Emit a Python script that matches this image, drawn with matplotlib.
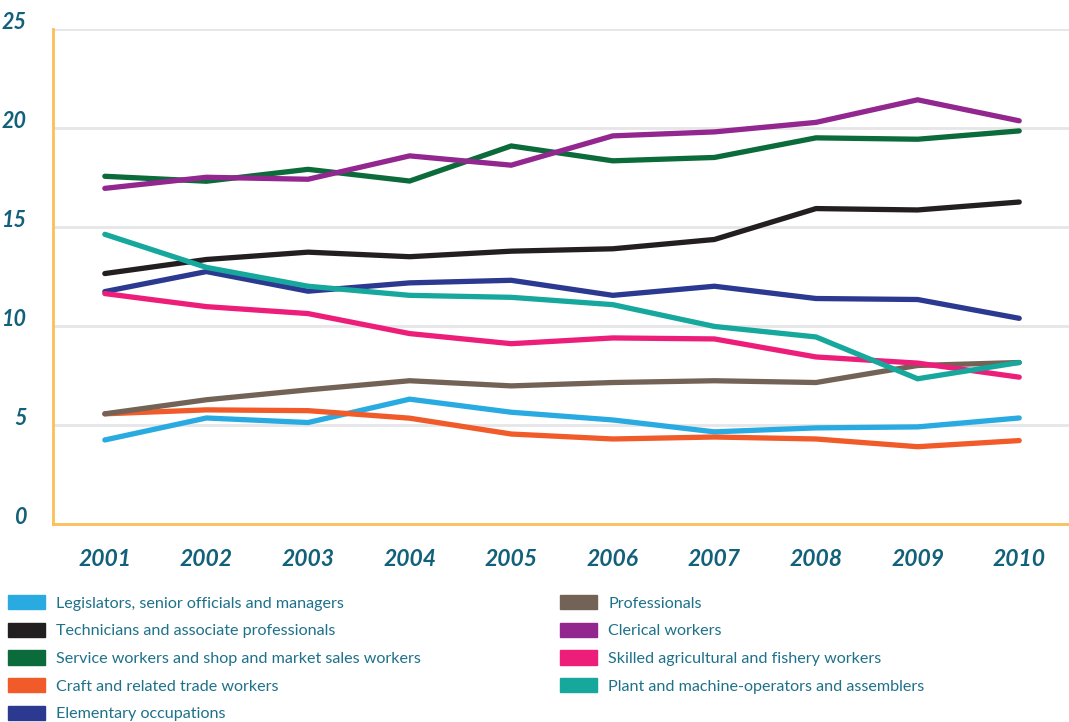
import numpy as np
import matplotlib.pyplot as plt
from matplotlib.patches import Patch

years = np.arange(2001, 2011)

legislators = [4.25, 5.36, 5.13, 6.31, 5.65, 5.26, 4.66, 4.86, 4.91, 5.36]
technicians = [12.65, 13.36, 13.73, 13.50, 13.78, 13.90, 14.37, 15.93, 15.86, 16.26]
service = [17.56, 17.31, 17.91, 17.32, 19.09, 18.34, 18.51, 19.50, 19.43, 19.85]
craft = [5.57, 5.77, 5.73, 5.35, 4.55, 4.30, 4.40, 4.30, 3.91, 4.22]
elementary = [11.74, 12.75, 11.76, 12.18, 12.31, 11.55, 12.01, 11.39, 11.34, 10.39]
professionals = [5.57, 6.28, 6.78, 7.24, 6.98, 7.15, 7.24, 7.15, 8.01, 8.16]
clerical = [16.95, 17.51, 17.41, 18.59, 18.12, 19.60, 19.80, 20.28, 21.42, 20.36]
skilled = [11.64, 10.98, 10.63, 9.62, 9.11, 9.40, 9.35, 8.44, 8.13, 7.42]
plant = [14.63, 12.96, 12.01, 11.55, 11.45, 11.08, 9.98, 9.45, 7.34, 8.16]

labels_left = [
    "Legislators, senior officials and managers",
    "Technicians and associate professionals",
    "Service workers and shop and market sales workers",
    "Craft and related trade workers",
    "Elementary occupations",
]
labels_right = [
    "Professionals",
    "Clerical workers",
    "Skilled agricultural and fishery workers",
    "Plant and machine-operators and assemblers",
]

colors = {
    "legislators": "#29abe2",
    "technicians": "#231f20",
    "service": "#0b6b3a",
    "craft": "#f15a29",
    "elementary": "#2b3990",
    "professionals": "#736357",
    "clerical": "#92278f",
    "skilled": "#ed1e79",
    "plant": "#16a79d",
}

tick_color = "#12607a"
text_color = "#1d7189"
axis_color = "#fdbf57"

fig = plt.figure(figsize=(10.69, 7.22), dpi=100)
ax = fig.add_axes([0.0496, 0.274, 0.9504, 0.686])

series = [
    ("legislators", legislators),
    ("craft", craft),
    ("professionals", professionals),
    ("elementary", elementary),
    ("skilled", skilled),
    ("technicians", technicians),
    ("plant", plant),
    ("service", service),
    ("clerical", clerical),
]
for key, vals in series:
    ax.plot(years, vals, color=colors[key], lw=3.8,
            solid_capstyle="round", solid_joinstyle="miter", zorder=3)

ax.set_xlim(2000.49, 2010.49)
ax.set_ylim(0, 25)
ax.set_xticks(years)
ax.set_yticks([0, 5, 10, 15, 20, 25])
ax.grid(axis="y", color="#e6e6e8", lw=2)
ax.set_axisbelow(True)

for side in ["top", "right"]:
    ax.spines[side].set_visible(False)
for side in ["left", "bottom"]:
    ax.spines[side].set_color(axis_color)
    ax.spines[side].set_linewidth(2)

ax.tick_params(length=0)
ax.tick_params(axis="x", pad=18)
ax.tick_params(axis="y", pad=19)
for lab in ax.get_xticklabels():
    lab.set(fontfamily="Lato", fontstyle="italic", fontweight="bold",
            fontsize=16.5, color=tick_color)
for lab in ax.get_yticklabels():
    lab.set(fontfamily="Lato", fontstyle="italic", fontweight="bold",
            fontsize=15.5, color=tick_color, va="baseline")

left_keys = ["legislators", "technicians", "service", "craft", "elementary"]
right_keys = ["professionals", "clerical", "skilled", "plant"]

# two legend columns under the plot, patches as colour keys
legend_kw = dict(frameon=False, handlelength=2.3, handleheight=1.0,
                 handletextpad=0.7, labelspacing=0.74, borderaxespad=0,
                 borderpad=0, prop={"family": "Lato", "size": 11.6},
                 labelcolor=text_color)
fig.legend([Patch(color=colors[k]) for k in left_keys], labels_left,
           loc="upper left", bbox_to_anchor=(0.0075, 0.176), **legend_kw)
fig.legend([Patch(color=colors[k]) for k in right_keys], labels_right,
           loc="upper left", bbox_to_anchor=(0.5239, 0.176), **legend_kw)

fig.savefig("out.png", dpi=100)
